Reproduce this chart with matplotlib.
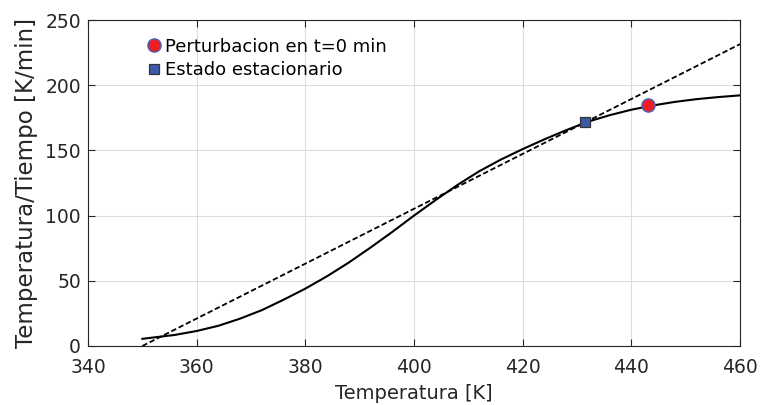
import numpy as np
import matplotlib
matplotlib.use('Agg')
import matplotlib.pyplot as plt

# curva de generacion
temp_curva = [350, 353, 356, 360, 364, 368, 372, 376, 380, 384, 388, 392, 396, 400,
              404, 408, 412, 416, 420, 424, 428, 432, 436, 440, 444, 448, 452, 456, 460]
gen_curva = [5.5, 7.0, 8.5, 11.5, 15.5, 21.0, 27.5, 35.5, 44.0, 53.5, 64.0, 75.5, 87.5, 100.0,
             112.0, 123.5, 134.0, 143.0, 151.0, 158.5, 165.5, 172.0, 177.0, 181.2, 184.5, 187.2, 189.3, 190.9, 192.2]

# recta de remocion
temp_recta = [350, 460]
rem_recta = [0, 231.5]

# puntos
pert_T, pert_y = 443, 184.5
est_T, est_y = 431.5, 172

fig = plt.figure(figsize=(7.6, 4.05), dpi=100)
ax = fig.add_axes([0.1158, 0.1457, 0.8579, 0.8049])

ax.plot(temp_curva, gen_curva, color='black', lw=1.5)
ax.plot(temp_recta, rem_recta, color='black', lw=1.3, ls=(0, (3, 1.5)))
ax.plot(pert_T, pert_y, 'o', ms=9.5, mfc='#ee1c25', mec='#4a64b4', mew=1.0,
        label='Perturbacion en t=0 min')
ax.plot(est_T, est_y, 's', ms=7, mfc='#3a5aa8', mec='#333333', mew=0.9,
        label='Estado estacionario')

ax.set_xlim(340, 460)
ax.set_ylim(0, 250)
ax.set_xticks(np.arange(340, 461, 20))
ax.set_yticks(np.arange(0, 251, 50))
ax.grid(True, color='#dddddd', lw=0.8)
ax.set_axisbelow(True)
ax.tick_params(direction='in', top=True, right=True, labelsize=13.5, colors='#262626', length=5)
ax.tick_params(axis='x', pad=9)
ax.tick_params(axis='y', pad=5)
for s in ax.spines.values():
    s.set_color('#262626')
ax.set_xlabel('Temperatura [K]', fontsize=14, color='#262626', labelpad=5)
ax.set_ylabel('Temperatura/Tiempo [K/min]', fontsize=16.5, color='#262626', labelpad=5.5)

ax.legend(loc='upper left', bbox_to_anchor=(0.072, 0.985), frameon=False, fontsize=13,
          handlelength=0.7, handletextpad=0.25, borderaxespad=0.3, labelspacing=0.3, numpoints=1)

fig.savefig('out.png', dpi=100)
